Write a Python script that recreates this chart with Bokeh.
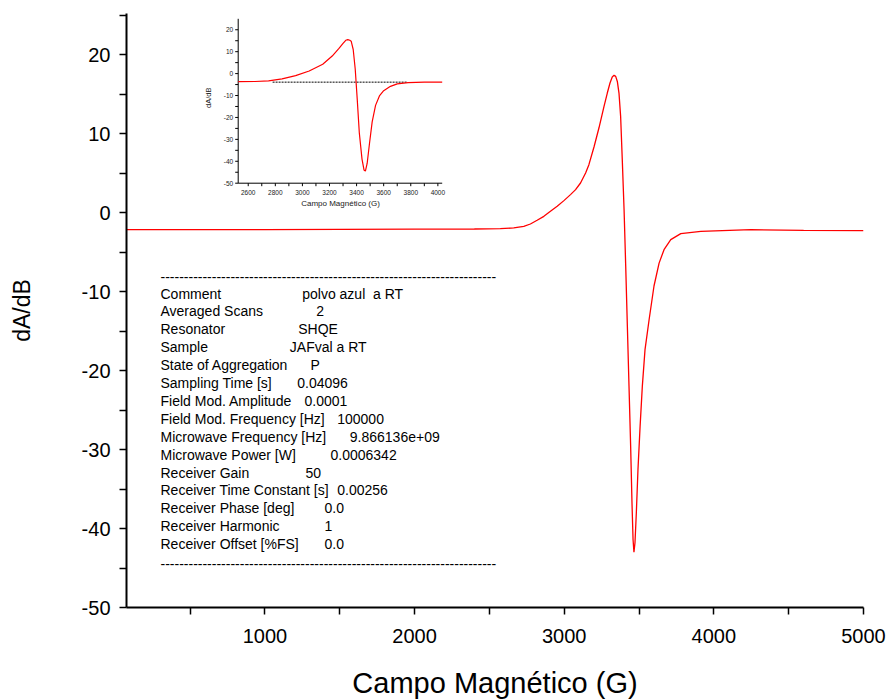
from bokeh.plotting import figure
from bokeh.models import Range1d, FixedTicker, ColumnDataSource
from bokeh.core.properties import value
from bokeh.embed import file_html
from bokeh.resources import INLINE

# ---------------- data ----------------
main_field = [75, 500, 1000, 1500, 2000, 2400, 2573, 2663, 2730, 2774, 2819, 2864, 2908,
              2953, 2998, 3042, 3076, 3109, 3143, 3165, 3199, 3232, 3266, 3288, 3306,
              3321, 3333, 3344, 3355, 3366, 3377, 3388, 3400, 3411, 3422, 3433, 3444,
              3453, 3460, 3466, 3473, 3482, 3493, 3507, 3522, 3540, 3567, 3600, 3634,
              3667, 3712, 3779, 3913, 4248, 4600, 5000]
main_signal = [-2.15, -2.15, -2.15, -2.12, -2.1, -2.08, -2.04, -1.95, -1.74, -1.45, -0.98,
               -0.48, 0.16, 0.79, 1.51, 2.27, 2.9, 3.74, 5.0, 6.06, 8.3, 10.7, 13.45,
               15.13, 16.4, 17.16, 17.37, 17.24, 16.6, 15.13, 12.18, 6.7, 0.37, -6.8,
               -14.4, -22.0, -29.6, -36.8, -41.4, -43.0, -41.8, -38.0, -32.5, -27.1,
               -22.0, -17.35, -13.6, -9.3, -6.4, -4.7, -3.43, -2.67, -2.38, -2.17,
               -2.25, -2.3]

inset_field = [2526, 2650, 2750, 2850, 2950, 3050, 3150, 3220, 3270, 3300, 3320, 3335,
               3350, 3360, 3375, 3390, 3405, 3420, 3440, 3455, 3465, 3478, 3495, 3515,
               3540, 3570, 3600, 3650, 3700, 3780, 3900, 4032]
inset_signal = [-3.7, -3.6, -3.3, -2.4, -0.9, 1.2, 4.3, 8.0, 11.5, 13.8, 15.2, 15.5,
                15.2, 14.8, 11.0, 2.0, -12.0, -27.0, -39.0, -44.0, -44.5, -41.0, -32.0,
                -22.0, -14.5, -10.0, -7.8, -5.8, -4.7, -4.1, -3.9, -3.9]
baseline_field = [2780, 3775]
baseline_signal = [-3.9, -3.9]

x_ticks = [1000, 2000, 3000, 4000, 5000]
x_minor = [500, 1500, 2500, 3500, 4500]
y_ticks = [-50, -40, -30, -20, -10, 0, 10, 20]
y_minor = [-45, -35, -25, -15, -5, 5, 15, 25]

inset_x_ticks = [2600, 2800, 3000, 3200, 3400, 3600, 3800, 4000]
inset_x_minor = [2700, 2900, 3100, 3300, 3500, 3700, 3900]
inset_y_ticks = [-50, -40, -30, -20, -10, 0, 10, 20]
inset_y_minor = [-45, -35, -25, -15, -5, 5, 15]

param_names = ["Comment", "Averaged Scans", "Resonator", "Sample", "State of Aggregation",
               "Sampling Time [s]", "Field Mod. Amplitude", "Field Mod. Frequency [Hz]",
               "Microwave Frequency [Hz]", "Microwave Power [W]", "Receiver Gain",
               "Receiver Time Constant [s]", "Receiver Phase [deg]", "Receiver Harmonic",
               "Receiver Offset [%FS]"]
param_values = ["polvo azul \u00a0a RT", "2", "SHQE", "JAFval a RT", "P", "0.04096", "0.0001",
                "100000", "9.866136e+09", "0.0006342", "50", "0.00256", "0.0", "1", "0.0"]
param_value_x = [301.7, 315.7, 297.7, 289.3, 310, 296.7, 304, 336.7, 349.3, 330, 305,
                 336.7, 324, 324, 324]

# ---------------- layout constants ----------------
FW, FH = 737, 594           # frame size in px
OX, OY = 126, 13            # frame origin in page px
FONT = "Liberation Sans"

p = figure(width=892, height=700, frame_width=FW, frame_height=FH,
           x_range=Range1d(75, 5000), y_range=Range1d(-50, 25.2),
           output_backend="svg", toolbar_location=None,
           min_border_left=OX, min_border_right=892 - OX - FW, min_border_top=OY,
           min_border_bottom=700 - OY - FH)
p.outline_line_color = None
p.xgrid.visible = False
p.ygrid.visible = False
p.background_fill_color = "white"

p.xaxis.ticker = FixedTicker(ticks=x_ticks, minor_ticks=x_minor)
p.yaxis.ticker = FixedTicker(ticks=y_ticks, minor_ticks=y_minor)
p.xaxis.major_label_overrides = {v: str(v) for v in x_ticks}
p.yaxis.major_label_overrides = {v: str(v) for v in y_ticks}
for ax in (p.xaxis[0], p.yaxis[0]):
    ax.axis_line_width = 2
    ax.axis_line_color = "black"
    ax.major_tick_line_width = 1.5
    ax.minor_tick_line_width = 1.5
    ax.major_tick_line_color = "black"
    ax.minor_tick_line_color = "black"
    ax.major_tick_in = 0
    ax.major_tick_out = 7
    ax.minor_tick_in = 0
    ax.minor_tick_out = 7
    ax.major_label_text_font = FONT
    ax.major_label_text_font_size = "20px"
    ax.major_label_text_color = "black"
    ax.axis_label_text_font = FONT
    ax.axis_label_text_font_style = "normal"
    ax.axis_label_text_color = "black"

p.xaxis.axis_label = "Campo Magnético (G)"
p.xaxis.axis_label_text_font_size = "29px"
p.xaxis.major_label_standoff = 14
p.xaxis.axis_label_standoff = 21
p.yaxis.axis_label = "dA/dB"
p.yaxis.axis_label_text_font_size = "23px"
p.yaxis.major_label_standoff = 9
p.yaxis.axis_label_standoff = 44

# main curve
p.line(main_field, main_signal, line_color="#ff0000", line_width=1.3)

# pixel ranges for annotations (origin at frame top-left)
p.extra_x_ranges["px"] = Range1d(0, FW)
p.extra_y_ranges["py"] = Range1d(FH, 0)

# inset mapping
L, R, T, B = 237.7 - OX, 441.7 - OX, 18.3 - OY, 182.7 - OY
ix0, ix1, iy0, iy1 = 2526, 4032, -50, 25
sx = (ix1 - ix0) / (R - L)
sy = (iy1 - iy0) / (B - T)
p.extra_x_ranges["ix"] = Range1d(ix0 - L * sx, ix0 + (FW - L) * sx)
p.extra_y_ranges["iy"] = Range1d(iy0 - (FH - B) * sy, iy1 + T * sy)

# inset axes
p.line([ix0, ix1], [iy0, iy0], line_color="black", line_width=1,
       x_range_name="ix", y_range_name="iy")
p.line([ix0, ix0], [iy0, iy1], line_color="black", line_width=1,
       x_range_name="ix", y_range_name="iy")
xt = inset_x_ticks + inset_x_minor
p.segment(x0=xt, x1=xt, y0=[B] * len(xt), y1=[B + 3] * len(xt),
          line_color="black", line_width=1, x_range_name="ix", y_range_name="py")
yt = inset_y_ticks + inset_y_minor
p.segment(x0=[L - 3] * len(yt), x1=[L] * len(yt), y0=yt, y1=yt,
          line_color="black", line_width=1, x_range_name="px", y_range_name="iy")
p.text(x=inset_x_ticks, y=[B + 9] * len(inset_x_ticks),
       text=[str(v) for v in inset_x_ticks], text_font=value(FONT),
       text_font_size="6.5px", text_align="center", text_baseline="middle",
       text_color="#222222", x_range_name="ix", y_range_name="py")
p.text(x=[L - 5] * len(inset_y_ticks), y=inset_y_ticks,
       text=[str(v) for v in inset_y_ticks], text_font=value(FONT),
       text_font_size="6.5px", text_align="right", text_baseline="middle",
       text_color="#222222", x_range_name="px", y_range_name="iy")
p.text(x=[340 - OX], y=[203.3 - OY], text=["Campo Magnético (G)"],
       text_font=value(FONT), text_font_size="8px", text_align="center",
       text_baseline="middle", text_color="#222222",
       x_range_name="px", y_range_name="py")
p.text(x=[208.3 - OX], y=[97.3 - OY], text=["dA/dB"], angle=1.5708,
       text_font=value(FONT), text_font_size="7.5px", text_align="center",
       text_baseline="middle", text_color="#222222",
       x_range_name="px", y_range_name="py")

# inset curve + dotted baseline
p.line(baseline_field, baseline_signal, line_color="black", line_width=1,
       line_dash="2 1", x_range_name="ix", y_range_name="iy")
p.line(inset_field, inset_signal, line_color="#ff0000", line_width=1.2,
       x_range_name="ix", y_range_name="iy")

# parameter block
n = len(param_names)
row_y = [293 - OY + 17.9 * i for i in range(n)]
src = ColumnDataSource(dict(x=[160 - OX] * n, y=row_y, t=param_names))
p.text(x="x", y="y", text="t", source=src, text_font=value(FONT),
       text_font_size="14px", text_align="left", text_baseline="middle",
       text_color="black", x_range_name="px", y_range_name="py")
src2 = ColumnDataSource(dict(x=[v - OX for v in param_value_x], y=row_y, t=param_values))
p.text(x="x", y="y", text="t", source=src2, text_font=value(FONT),
       text_font_size="14px", text_align="left", text_baseline="middle",
       text_color="black", x_range_name="px", y_range_name="py")
dash = "-" * 72
p.text(x=[160 - OX, 160 - OX], y=[276 - OY, 563 - OY], text=[dash, dash],
       text_font=value(FONT), text_font_size="14px", text_align="left",
       text_baseline="middle", text_color="black",
       x_range_name="px", y_range_name="py")

open("out.html", "w").write(file_html(p, INLINE))
